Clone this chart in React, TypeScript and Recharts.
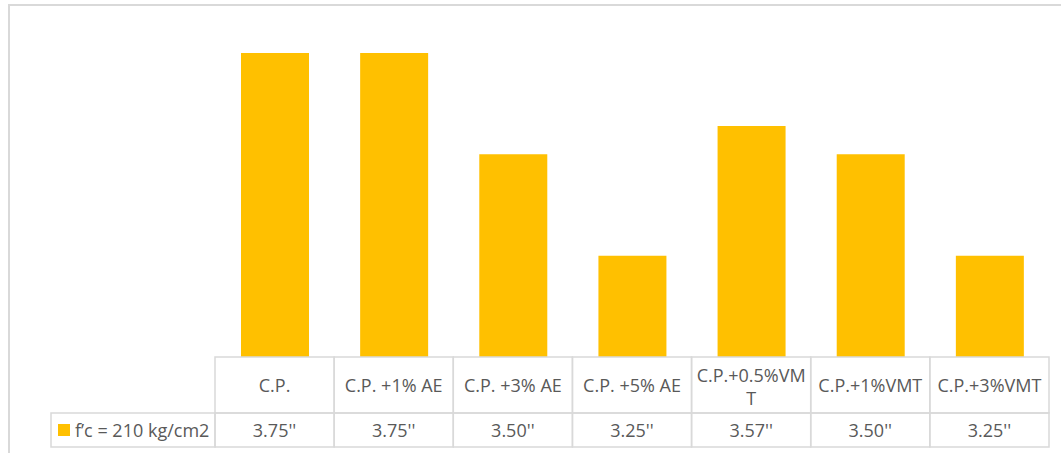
import { BarChart, Bar, XAxis, YAxis } from "recharts";

// Slump per mix (inches), f'c = 210 kg/cm2
const categories = [
  "C.P.",
  "C.P. +1% AE",
  "C.P. +3% AE",
  "C.P. +5% AE",
  "C.P.+0.5%VMT",
  "C.P.+1%VMT",
  "C.P.+3%VMT",
];
const slump = [3.75, 3.75, 3.5, 3.25, 3.57, 3.5, 3.25];
const seriesName = "f’c = 210 kg/cm2";

const data = categories.map((name, i) => ({ name, slump: slump[i] }));

const W = 1061;
const H = 453;
const MARGIN = { top: 53, right: 12, left: 215, bottom: 0 };
const CELL_W = (W - MARGIN.left - MARGIN.right) / categories.length;
const HEAD_H = 56;
const ROW_H = 34;
const LEGEND_W = 164;

const GRID = "#d9d9d9";
const TEXT = "#595959";
const GOLD = "#FFC000";
const FONT = "'Open Sans', sans-serif";

// crude wrap: header cells fit about 11 characters per line
function wrap(label: string, max = 11): string[] {
  const lines: string[] = [];
  for (let i = 0; i < label.length; i += max) lines.push(label.slice(i, i + max));
  return lines;
}

// Each tick draws one column of the data table under the bars
function TableTick(props: any) {
  const { x, y, payload, index } = props;
  const left = x - CELL_W / 2;
  const lines = wrap(String(payload.value));
  const value = slump[index];
  return (
    <g fontFamily={FONT} fontSize={18} fill={TEXT}>
      <rect x={left} y={y} width={CELL_W} height={HEAD_H} fill="none" stroke={GRID} strokeWidth={1.5} />
      <rect x={left} y={y + HEAD_H} width={CELL_W} height={ROW_H} fill="none" stroke={GRID} strokeWidth={1.5} />
      {lines.length === 1 ? (
        <text x={x} y={y + 35} textAnchor="middle">{lines[0]}</text>
      ) : (
        lines.map((ln, k) => (
          <text key={k} x={x} y={y + 24.5 + k * 23.5} textAnchor="middle">{ln}</text>
        ))
      )}
      <text x={x} y={y + 79.5} textAnchor="middle">{value.toFixed(2) + "''"}</text>
      {index === 0 && (
        <g>
          <rect
            x={left - LEGEND_W}
            y={y + HEAD_H}
            width={LEGEND_W}
            height={ROW_H}
            fill="none"
            stroke={GRID}
            strokeWidth={1.5}
          />
          <rect x={left - LEGEND_W + 7} y={y + HEAD_H + 11} width={12} height={12} fill={GOLD} />
          <text x={left - LEGEND_W + 24} y={y + 79.5}>{seriesName}</text>
        </g>
      )}
    </g>
  );
}

export default function App() {
  return (
    <div style={{ position: "absolute", left: 0, top: 0, width: W, height: H, overflow: "hidden", background: "#fff" }}>
      <div
        style={{
          position: "absolute",
          left: 8,
          top: 4,
          width: W + 40,
          height: H + 40,
          border: `2px solid ${GRID}`,
        }}
      />
      <div style={{ position: "absolute", left: 0, top: 0 }}>
        <BarChart width={W} height={H} data={data} margin={MARGIN}>
          <XAxis
            dataKey="name"
            height={96}
            interval={0}
            axisLine={false}
            tickLine={false}
            tickSize={0}
            tickMargin={0}
            tick={<TableTick />}
          />
          <YAxis hide domain={[3, 3.75]} allowDataOverflow />
          <Bar dataKey="slump" name={seriesName} fill={GOLD} barSize={68} isAnimationActive={false} />
        </BarChart>
      </div>
    </div>
  );
}
